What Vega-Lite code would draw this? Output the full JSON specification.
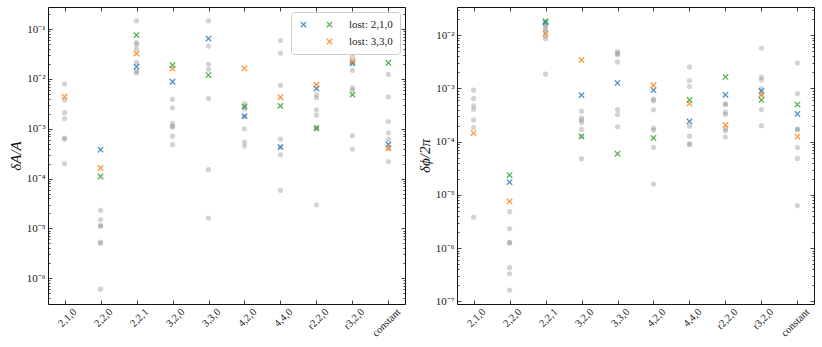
{
 "$schema": "https://vega.github.io/schema/vega-lite/v6.json",
 "padding": {"left": 8, "top": 6, "right": 5, "bottom": 0},
 "bounds": "flush",
 "spacing": 52,
 "resolve": {"scale": {"color": "independent"}, "legend": {"color": "independent"}},
 "config": {
  "view": {"stroke": null},
  "font": "Liberation Serif",
  "axis": {"grid": false, "domainColor": "#111", "domainWidth": 1, "tickColor": "#111", "tickWidth": 0.8, "labelColor": "#222", "labelFont": "Liberation Serif", "labelFontSize": 11, "titleFont": "Liberation Serif", "titleFontWeight": "normal", "titleColor": "#111"}
 },
 "datasets": {
  "amp": [
   {"model":"2,1,0","series":"grey","value":7.9e-3},{"model":"2,1,0","series":"grey","value":3.8e-3},{"model":"2,1,0","series":"grey","value":2.1e-3},{"model":"2,1,0","series":"grey","value":1.6e-3},{"model":"2,1,0","series":"grey","value":6.5e-4},{"model":"2,1,0","series":"grey","value":6.2e-4},{"model":"2,1,0","series":"grey","value":2.0e-4},{"model":"2,1,0","series":"s2","value":4.4e-3},
   {"model":"2,2,0","series":"grey","value":2.3e-5},{"model":"2,2,0","series":"grey","value":1.5e-5},{"model":"2,2,0","series":"grey","value":1.15e-5},{"model":"2,2,0","series":"grey","value":1.1e-5},{"model":"2,2,0","series":"grey","value":5.3e-6},{"model":"2,2,0","series":"grey","value":5.0e-6},{"model":"2,2,0","series":"grey","value":6.0e-7},{"model":"2,2,0","series":"s1","value":3.8e-4},{"model":"2,2,0","series":"s2","value":1.63e-4},{"model":"2,2,0","series":"s3","value":1.1e-4},
   {"model":"2,2,1","series":"grey","value":0.147},{"model":"2,2,1","series":"grey","value":0.054},{"model":"2,2,1","series":"grey","value":0.049},{"model":"2,2,1","series":"grey","value":0.04},{"model":"2,2,1","series":"grey","value":0.0215},{"model":"2,2,1","series":"grey","value":0.0142},{"model":"2,2,1","series":"grey","value":0.0134},{"model":"2,2,1","series":"s1","value":0.0176},{"model":"2,2,1","series":"s2","value":0.0325},{"model":"2,2,1","series":"s3","value":0.076},
   {"model":"3,2,0","series":"grey","value":3.9e-3},{"model":"3,2,0","series":"grey","value":2.63e-3},{"model":"3,2,0","series":"grey","value":1.29e-3},{"model":"3,2,0","series":"grey","value":1.12e-3},{"model":"3,2,0","series":"grey","value":1.08e-3},{"model":"3,2,0","series":"grey","value":7.1e-4},{"model":"3,2,0","series":"grey","value":4.8e-4},{"model":"3,2,0","series":"s1","value":8.8e-3},{"model":"3,2,0","series":"s2","value":0.0161},{"model":"3,2,0","series":"s3","value":0.019},
   {"model":"3,3,0","series":"grey","value":0.147},{"model":"3,3,0","series":"grey","value":0.0457},{"model":"3,3,0","series":"grey","value":0.02},{"model":"3,3,0","series":"grey","value":0.0158},{"model":"3,3,0","series":"grey","value":4.04e-3},{"model":"3,3,0","series":"grey","value":1.51e-4},{"model":"3,3,0","series":"grey","value":1.61e-5},{"model":"3,3,0","series":"s1","value":0.0649},{"model":"3,3,0","series":"s3","value":0.012},
   {"model":"4,2,0","series":"grey","value":3.2e-3},{"model":"4,2,0","series":"grey","value":2.75e-3},{"model":"4,2,0","series":"grey","value":2.5e-3},{"model":"4,2,0","series":"grey","value":1.75e-3},{"model":"4,2,0","series":"grey","value":1.0e-3},{"model":"4,2,0","series":"grey","value":5.4e-4},{"model":"4,2,0","series":"grey","value":4.5e-4},{"model":"4,2,0","series":"s1","value":1.79e-3},{"model":"4,2,0","series":"s2","value":0.0163},{"model":"4,2,0","series":"s3","value":2.79e-3},
   {"model":"4,4,0","series":"grey","value":0.0592},{"model":"4,4,0","series":"grey","value":0.0331},{"model":"4,4,0","series":"grey","value":7.45e-3},{"model":"4,4,0","series":"grey","value":6.2e-4},{"model":"4,4,0","series":"grey","value":4.3e-4},{"model":"4,4,0","series":"grey","value":3.0e-4},{"model":"4,4,0","series":"grey","value":5.8e-5},{"model":"4,4,0","series":"s1","value":4.29e-4},{"model":"4,4,0","series":"s2","value":4.29e-3},{"model":"4,4,0","series":"s3","value":2.88e-3},
   {"model":"r2,2,0","series":"grey","value":4.8e-3},{"model":"r2,2,0","series":"grey","value":4.2e-3},{"model":"r2,2,0","series":"grey","value":2.4e-3},{"model":"r2,2,0","series":"grey","value":1.87e-3},{"model":"r2,2,0","series":"grey","value":1.05e-3},{"model":"r2,2,0","series":"grey","value":1.0e-3},{"model":"r2,2,0","series":"grey","value":2.97e-5},{"model":"r2,2,0","series":"s1","value":6.4e-3},{"model":"r2,2,0","series":"s2","value":7.7e-3},{"model":"r2,2,0","series":"s3","value":1.03e-3},
   {"model":"r3,2,0","series":"grey","value":0.0288},{"model":"r3,2,0","series":"grey","value":0.020},{"model":"r3,2,0","series":"grey","value":0.0149},{"model":"r3,2,0","series":"grey","value":6.6e-3},{"model":"r3,2,0","series":"grey","value":6.0e-3},{"model":"r3,2,0","series":"grey","value":7.2e-4},{"model":"r3,2,0","series":"grey","value":3.9e-4},{"model":"r3,2,0","series":"s1","value":0.0209},{"model":"r3,2,0","series":"s2","value":0.0232},{"model":"r3,2,0","series":"s3","value":4.85e-3},
   {"model":"constant","series":"grey","value":0.01236},{"model":"constant","series":"grey","value":4.36e-3},{"model":"constant","series":"grey","value":1.4e-3},{"model":"constant","series":"grey","value":8.3e-4},{"model":"constant","series":"grey","value":6.1e-4},{"model":"constant","series":"grey","value":4.0e-4},{"model":"constant","series":"grey","value":2.19e-4},{"model":"constant","series":"s1","value":4.85e-4},{"model":"constant","series":"s2","value":4.1e-4},{"model":"constant","series":"s3","value":0.0212}
  ],
  "phase": [
   {"model":"2,1,0","series":"grey","value":9.3e-4},{"model":"2,1,0","series":"grey","value":6.45e-4},{"model":"2,1,0","series":"grey","value":4.72e-4},{"model":"2,1,0","series":"grey","value":4.07e-4},{"model":"2,1,0","series":"grey","value":2.57e-4},{"model":"2,1,0","series":"grey","value":1.85e-4},{"model":"2,1,0","series":"grey","value":3.8e-6},{"model":"2,1,0","series":"s2","value":1.45e-4},
   {"model":"2,2,0","series":"grey","value":4.84e-6},{"model":"2,2,0","series":"grey","value":2.32e-6},{"model":"2,2,0","series":"grey","value":1.28e-6},{"model":"2,2,0","series":"grey","value":1.25e-6},{"model":"2,2,0","series":"grey","value":4.26e-7},{"model":"2,2,0","series":"grey","value":3.28e-7},{"model":"2,2,0","series":"grey","value":1.62e-7},{"model":"2,2,0","series":"s1","value":1.74e-5},{"model":"2,2,0","series":"s2","value":7.55e-6},{"model":"2,2,0","series":"s3","value":2.36e-5},
   {"model":"2,2,1","series":"grey","value":0.0165},{"model":"2,2,1","series":"grey","value":0.0149},{"model":"2,2,1","series":"grey","value":0.0133},{"model":"2,2,1","series":"grey","value":0.0118},{"model":"2,2,1","series":"grey","value":9.8e-3},{"model":"2,2,1","series":"grey","value":8.6e-3},{"model":"2,2,1","series":"grey","value":1.86e-3},{"model":"2,2,1","series":"s1","value":0.0175},{"model":"2,2,1","series":"s2","value":0.0108},{"model":"2,2,1","series":"s3","value":0.0185},
   {"model":"3,2,0","series":"grey","value":3.75e-4},{"model":"3,2,0","series":"grey","value":2.77e-4},{"model":"3,2,0","series":"grey","value":2.54e-4},{"model":"3,2,0","series":"grey","value":2.29e-4},{"model":"3,2,0","series":"grey","value":1.7e-4},{"model":"3,2,0","series":"grey","value":1.25e-4},{"model":"3,2,0","series":"grey","value":4.8e-5},{"model":"3,2,0","series":"s1","value":7.48e-4},{"model":"3,2,0","series":"s2","value":3.44e-3},{"model":"3,2,0","series":"s3","value":1.26e-4},
   {"model":"3,3,0","series":"grey","value":4.93e-3},{"model":"3,3,0","series":"grey","value":4.52e-3},{"model":"3,3,0","series":"grey","value":4.3e-3},{"model":"3,3,0","series":"grey","value":3.16e-3},{"model":"3,3,0","series":"grey","value":4.02e-4},{"model":"3,3,0","series":"grey","value":3.24e-4},{"model":"3,3,0","series":"grey","value":1.9e-4},{"model":"3,3,0","series":"s1","value":1.27e-3},{"model":"3,3,0","series":"s3","value":5.93e-5},
   {"model":"4,2,0","series":"grey","value":6.3e-4},{"model":"4,2,0","series":"grey","value":5.85e-4},{"model":"4,2,0","series":"grey","value":3.97e-4},{"model":"4,2,0","series":"grey","value":1.8e-4},{"model":"4,2,0","series":"grey","value":1.65e-4},{"model":"4,2,0","series":"grey","value":7.8e-5},{"model":"4,2,0","series":"grey","value":1.6e-5},{"model":"4,2,0","series":"s1","value":9.3e-4},{"model":"4,2,0","series":"s2","value":1.15e-3},{"model":"4,2,0","series":"s3","value":1.18e-4},
   {"model":"4,4,0","series":"grey","value":2.54e-3},{"model":"4,4,0","series":"grey","value":1.41e-3},{"model":"4,4,0","series":"grey","value":1.09e-3},{"model":"4,4,0","series":"grey","value":1.96e-4},{"model":"4,4,0","series":"grey","value":1.27e-4},{"model":"4,4,0","series":"grey","value":9.25e-5},{"model":"4,4,0","series":"grey","value":8.8e-5},{"model":"4,4,0","series":"s1","value":2.4e-4},{"model":"4,4,0","series":"s2","value":5.2e-4},{"model":"4,4,0","series":"s3","value":6.1e-4},
   {"model":"r2,2,0","series":"grey","value":5.14e-4},{"model":"r2,2,0","series":"grey","value":5.0e-4},{"model":"r2,2,0","series":"grey","value":3.59e-4},{"model":"r2,2,0","series":"grey","value":3.24e-4},{"model":"r2,2,0","series":"grey","value":1.77e-4},{"model":"r2,2,0","series":"grey","value":1.6e-4},{"model":"r2,2,0","series":"grey","value":1.22e-4},{"model":"r2,2,0","series":"s1","value":7.59e-4},{"model":"r2,2,0","series":"s2","value":2.07e-4},{"model":"r2,2,0","series":"s3","value":1.65e-3},
   {"model":"r3,2,0","series":"grey","value":5.7e-3},{"model":"r3,2,0","series":"grey","value":1.63e-3},{"model":"r3,2,0","series":"grey","value":1.45e-3},{"model":"r3,2,0","series":"grey","value":1.0e-3},{"model":"r3,2,0","series":"grey","value":7.8e-4},{"model":"r3,2,0","series":"grey","value":4.02e-4},{"model":"r3,2,0","series":"grey","value":2.0e-4},{"model":"r3,2,0","series":"s1","value":9.0e-4},{"model":"r3,2,0","series":"s2","value":7.6e-4},{"model":"r3,2,0","series":"s3","value":6.1e-4},
   {"model":"constant","series":"grey","value":3.02e-3},{"model":"constant","series":"grey","value":8.0e-4},{"model":"constant","series":"grey","value":1.72e-4},{"model":"constant","series":"grey","value":1.68e-4},{"model":"constant","series":"grey","value":7.8e-5},{"model":"constant","series":"grey","value":4.84e-5},{"model":"constant","series":"grey","value":6.3e-6},{"model":"constant","series":"s1","value":3.33e-4},{"model":"constant","series":"s2","value":1.25e-4},{"model":"constant","series":"s3","value":4.99e-4}
  ]
 },
 "hconcat": [
  {
   "width": 357, "height": 297,
   "data": {"name": "amp"},
   "resolve": {"axis": {"x": "independent", "y": "independent"}},
   "layer": [
    {
     "transform": [{"filter": "datum.series == 'grey'"}],
     "mark": {"type": "circle", "size": 27, "color": "#808080", "opacity": 0.35},
     "encoding": {
      "x": {"field": "model", "type": "nominal", "scale": {"type": "point", "padding": 0.46, "domain": ["2,1,0","2,2,0","2,2,1","3,2,0","3,3,0","4,2,0","4,4,0","r2,2,0","r3,2,0","constant"]},
            "axis": {"orient": "bottom", "title": null, "tickSize": -4, "labelAngle": -45, "labelAlign": "right", "labelBaseline": "middle", "labelOffset": 10, "labelPadding": 10, "labelFontSize": 10.5}},
      "y": {"field": "value", "type": "quantitative", "scale": {"type": "log", "domain": [3.02e-7, 0.279], "nice": false},
            "axis": {"orient": "left", "title": "δA/A", "titleFontSize": 15, "titleFontStyle": "italic", "titlePadding": 3,
                     "values": [4e-7,5e-7,6e-7,7e-7,8e-7,9e-7,1e-6,2e-6,3e-6,4e-6,5e-6,6e-6,7e-6,8e-6,9e-6,1e-5,2e-5,3e-5,4e-5,5e-5,6e-5,7e-5,8e-5,9e-5,1e-4,2e-4,3e-4,4e-4,5e-4,6e-4,7e-4,8e-4,9e-4,1e-3,2e-3,3e-3,4e-3,5e-3,6e-3,7e-3,8e-3,9e-3,1e-2,2e-2,3e-2,4e-2,5e-2,6e-2,7e-2,8e-2,9e-2,1e-1,2e-1],
                     "labelExpr": "abs(log(datum.value)/LN10 - round(log(datum.value)/LN10)) > 0.01 ? '' : '10⁻' + substring('⁰¹²³⁴⁵⁶⁷⁸⁹', -round(log(datum.value)/LN10), -round(log(datum.value)/LN10) + 1)",
                     "tickSize": {"condition": {"test": "abs(log(datum.value)/LN10 - round(log(datum.value)/LN10)) < 0.01", "value": -4}, "value": -2},
                     "labelPadding": 7}}
     }
    },
    {
     "transform": [{"filter": "datum.series != 'grey'"}],
     "mark": {"type": "point", "shape": "M-1,-1L1,1M1,-1L-1,1", "filled": false, "size": 29, "strokeWidth": 1.3, "opacity": 0.8},
     "encoding": {
      "x": {"field": "model", "type": "nominal", "axis": {"orient": "top", "title": null, "labels": false, "tickSize": -4}},
      "y": {"field": "value", "type": "quantitative",
            "axis": {"orient": "right", "title": null, "labels": false,
                     "values": [4e-7,5e-7,6e-7,7e-7,8e-7,9e-7,1e-6,2e-6,3e-6,4e-6,5e-6,6e-6,7e-6,8e-6,9e-6,1e-5,2e-5,3e-5,4e-5,5e-5,6e-5,7e-5,8e-5,9e-5,1e-4,2e-4,3e-4,4e-4,5e-4,6e-4,7e-4,8e-4,9e-4,1e-3,2e-3,3e-3,4e-3,5e-3,6e-3,7e-3,8e-3,9e-3,1e-2,2e-2,3e-2,4e-2,5e-2,6e-2,7e-2,8e-2,9e-2,1e-1,2e-1],
                     "tickSize": {"condition": {"test": "abs(log(datum.value)/LN10 - round(log(datum.value)/LN10)) < 0.01", "value": -4}, "value": -2}}},
      "color": {"field": "series", "type": "nominal",
                "scale": {"domain": ["s1","pad","s3","s2"], "range": ["#1f77b4","rgba(0,0,0,0)","#2ca02c","#ff7f0e"]},
                "legend": {"orient": "top-right", "title": null, "columns": 2, "offset": 5, "padding": 7, "rowPadding": 5, "columnPadding": 1, "labelOffset": 14,
                           "labelExpr": "datum.value == 's3' ? 'lost: 2,1,0' : datum.value == 's2' ? 'lost: 3,3,0' : ''",
                           "symbolType": "M-1,-1L1,1M1,-1L-1,1", "symbolSize": 29, "symbolStrokeWidth": 1.3, "symbolOpacity": 0.8,
                           "fillColor": "rgba(255,255,255,0.85)", "strokeColor": "#cccccc", "cornerRadius": 3,
                           "labelFont": "Liberation Serif", "labelFontSize": 11, "labelColor": "#222"}}
     }
    }
   ]
  },
  {
   "width": 357, "height": 297,
   "data": {"name": "phase"},
   "resolve": {"axis": {"x": "independent", "y": "independent"}},
   "layer": [
    {
     "transform": [{"filter": "datum.series == 'grey'"}],
     "mark": {"type": "circle", "size": 27, "color": "#808080", "opacity": 0.35},
     "encoding": {
      "x": {"field": "model", "type": "nominal", "scale": {"type": "point", "padding": 0.46, "domain": ["2,1,0","2,2,0","2,2,1","3,2,0","3,3,0","4,2,0","4,4,0","r2,2,0","r3,2,0","constant"]},
            "axis": {"orient": "bottom", "title": null, "tickSize": -4, "labelAngle": -45, "labelAlign": "right", "labelBaseline": "middle", "labelOffset": 10, "labelPadding": 10, "labelFontSize": 10.5}},
      "y": {"field": "value", "type": "quantitative", "scale": {"type": "log", "domain": [8.9e-8, 0.034], "nice": false},
            "axis": {"orient": "left", "title": "δϕ/2π", "titleFontSize": 15, "titleFontStyle": "italic", "titlePadding": 3,
                     "values": [9e-8,1e-7,2e-7,3e-7,4e-7,5e-7,6e-7,7e-7,8e-7,9e-7,1e-6,2e-6,3e-6,4e-6,5e-6,6e-6,7e-6,8e-6,9e-6,1e-5,2e-5,3e-5,4e-5,5e-5,6e-5,7e-5,8e-5,9e-5,1e-4,2e-4,3e-4,4e-4,5e-4,6e-4,7e-4,8e-4,9e-4,1e-3,2e-3,3e-3,4e-3,5e-3,6e-3,7e-3,8e-3,9e-3,1e-2,2e-2,3e-2],
                     "labelExpr": "abs(log(datum.value)/LN10 - round(log(datum.value)/LN10)) > 0.01 ? '' : '10⁻' + substring('⁰¹²³⁴⁵⁶⁷⁸⁹', -round(log(datum.value)/LN10), -round(log(datum.value)/LN10) + 1)",
                     "tickSize": {"condition": {"test": "abs(log(datum.value)/LN10 - round(log(datum.value)/LN10)) < 0.01", "value": -4}, "value": -2},
                     "labelPadding": 7}}
     }
    },
    {
     "transform": [{"filter": "datum.series != 'grey'"}],
     "mark": {"type": "point", "shape": "M-1,-1L1,1M1,-1L-1,1", "filled": false, "size": 29, "strokeWidth": 1.3, "opacity": 0.8},
     "encoding": {
      "x": {"field": "model", "type": "nominal", "axis": {"orient": "top", "title": null, "labels": false, "tickSize": -4}},
      "y": {"field": "value", "type": "quantitative",
            "axis": {"orient": "right", "title": null, "labels": false,
                     "values": [9e-8,1e-7,2e-7,3e-7,4e-7,5e-7,6e-7,7e-7,8e-7,9e-7,1e-6,2e-6,3e-6,4e-6,5e-6,6e-6,7e-6,8e-6,9e-6,1e-5,2e-5,3e-5,4e-5,5e-5,6e-5,7e-5,8e-5,9e-5,1e-4,2e-4,3e-4,4e-4,5e-4,6e-4,7e-4,8e-4,9e-4,1e-3,2e-3,3e-3,4e-3,5e-3,6e-3,7e-3,8e-3,9e-3,1e-2,2e-2,3e-2],
                     "tickSize": {"condition": {"test": "abs(log(datum.value)/LN10 - round(log(datum.value)/LN10)) < 0.01", "value": -4}, "value": -2}}},
      "color": {"field": "series", "type": "nominal",
                "scale": {"domain": ["s1","s3","s2"], "range": ["#1f77b4","#2ca02c","#ff7f0e"]},
                "legend": null}
     }
    }
   ]
  }
 ]
}
